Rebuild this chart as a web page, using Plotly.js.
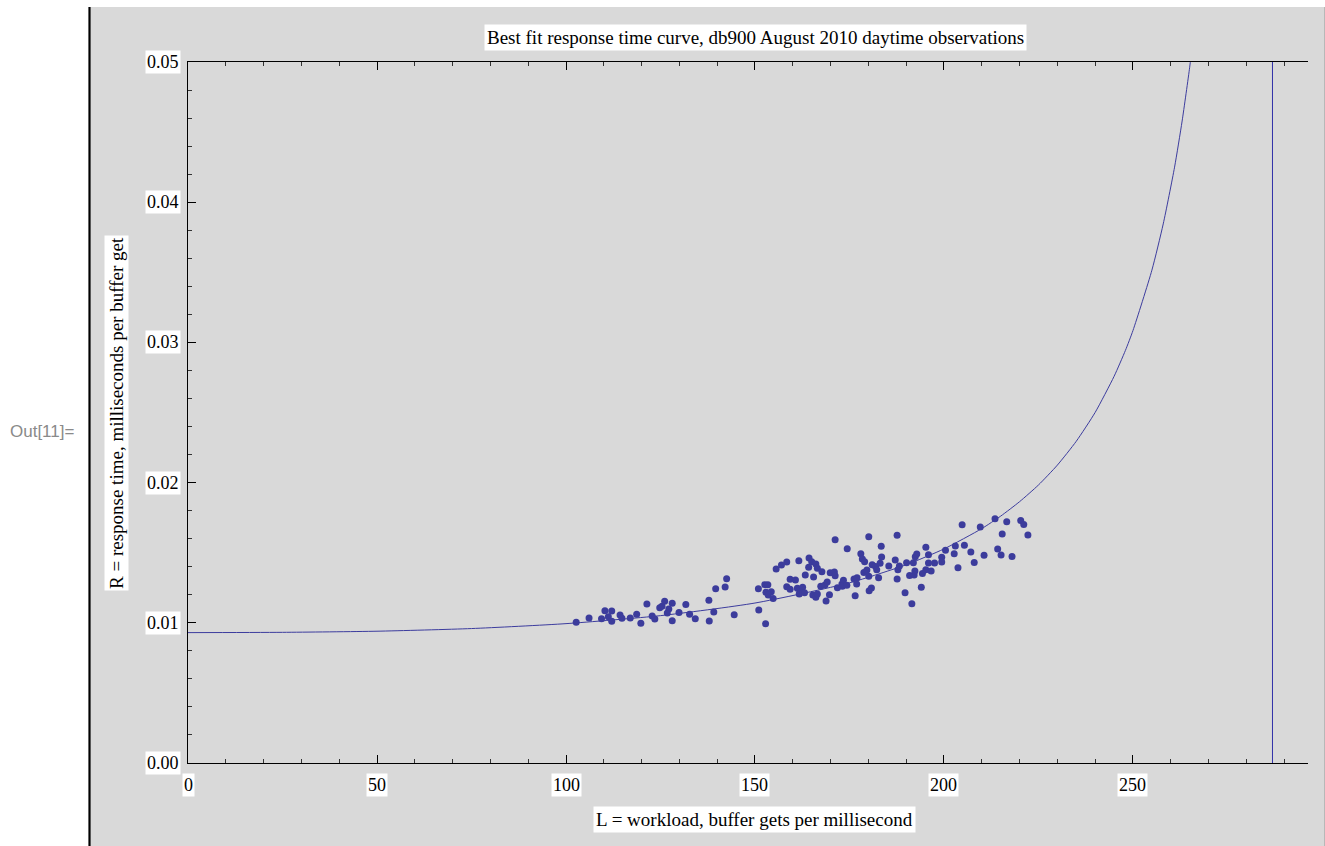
<!DOCTYPE html>
<html>
<head>
<meta charset="utf-8">
<script src="https://cdn.plot.ly/plotly-3.0.1.min.js"></script>
<style>html,body{margin:0;padding:0;background:#fff;}#chart{width:1325px;height:846px;}</style>
</head>
<body>
<div id="chart"></div>
<script>
// Observations: L = workload (buffer gets/ms), R = response time (ms/get)
var obsL = [102.7,106.1,109.4,110.3,112.1,111.2,112.1,114.3,114.8,117.0,118.7,119.8,121.4,122.8,123.5,124.8,125.4,126.1,127.2,128.1,126.8,128.1,129.9,131.7,132.7,134.2,137.8,139.1,137.9,139.6,
142.1,142.5,144.5,151.0,152.8,150.9,152.6,153.4,152.9,154.3,153.5,154.8,155.6,157.0,158.4,161.6,159.3,160.7,158.4,159.3,161.2,161.9,162.6,161.7,163.1,163.3,164.3,164.2,165.0,166.1,166.5,167.7,165.5,165.3,166.1,166.5,168.8,169.7,167.4,168.5,169.1,169.9,171.0,171.2,171.2,171.8,173.0,173.4,174.4,173.1,174.3,176.5,176.2,177.0,176.9,178.0,178.4,179.0,180.1,178.8,179.6,
183.4,183.5,187.6,180.1,181.0,181.9,182.2,183.1,182.7,180.2,180.8,185.4,187.1,188.2,187.8,187.6,189.7,190.1,191.9,192.4,192.8,190.9,192.1,192.3,194.0,191.5,194.3,195.2,195.9,195.9,195.2,196.6,197.5,199.4,199.4,200.4,202.7,203.0,203.7,205.4,204.8,207.1,208.0,209.6,210.6,213.5,215.4,214.2,215.1,216.6,218.0,220.3,221.1,222.2];
var obsR = [0.01004,0.01034,0.01029,0.01086,0.01084,0.01044,0.01011,0.01056,0.01032,0.01034,0.01061,0.00996,0.01134,0.01049,0.01027,0.01108,0.01118,0.01153,0.01098,0.01139,0.01070,0.01015,0.01074,0.01131,0.01061,0.01029,0.01160,0.01077,0.01013,0.01243,
0.01255,0.01315,0.01058,0.01091,0.00994,0.01243,0.01272,0.01272,0.01218,0.01222,0.01198,0.01174,0.01384,0.01412,0.01434,0.01443,0.01310,0.01305,0.01258,0.01239,0.01246,0.01229,0.01253,0.01205,0.01215,0.01341,0.01462,0.01396,0.01436,0.01419,0.01389,0.01365,0.01327,0.01198,0.01182,0.01205,0.01156,0.01200,0.01260,0.01270,0.01291,0.01357,0.01362,0.01336,0.01593,0.01250,0.01277,0.01303,0.01529,0.01260,0.01267,0.01193,0.01312,0.01322,0.01277,0.01493,0.01455,0.01436,0.01614,0.01359,0.01377,
0.01546,0.01469,0.01624,0.01332,0.01414,0.01402,0.01379,0.01424,0.01322,0.01229,0.01248,0.01405,0.01448,0.01405,0.01379,0.01312,0.01215,0.01429,0.01429,0.01472,0.01491,0.01337,0.01341,0.01369,0.01253,0.01136,0.01352,0.01538,0.01486,0.01427,0.01379,0.01369,0.01427,0.01468,0.01434,0.01517,0.01493,0.01548,0.01393,0.01553,0.01700,0.01505,0.01430,0.01683,0.01481,0.01743,0.01633,0.01526,0.01484,0.01721,0.01473,0.01730,0.01701,0.01626];

// Fitted curve
var curveL = [0,25,50,75,100,125,150,175,190,200,210,215,220,225,230,235,240,245,248,250,255,258,261,263,265,266];
var curveR = [0.00930,0.00932,0.00940,0.00959,0.00994,0.01051,0.01141,0.01285,0.01414,0.01527,0.01672,0.01761,0.01864,0.01983,0.02125,0.02295,0.02501,0.02758,0.02943,0.03085,0.03515,0.03845,0.04250,0.04579,0.04963,0.05187];

// Vertical asymptote
var asymL = [286.9,286.9];
var asymR = [0,0.05];

var xTickVals = [0,50,100,150,200,250];
var xTickText = ["0","50","100","150","200","250"];
var yTickVals = [0,0.01,0.02,0.03,0.04,0.05];
var yTickText = ["0.00","0.01","0.02","0.03","0.04","0.05"];

var titleText = "Best fit response time curve, db900 August 2010 daytime observations";
var xTitle = "L = workload, buffer gets per millisecond";
var yTitle = "R = response time, milliseconds per buffer get";

var serif = "Liberation Serif, Times New Roman, serif";
var tickFont = {family: serif, size: 18, color: "#000"};
var titleFont = {family: serif, size: 19, color: "#000"};

var traces = [
  {x: curveL, y: curveR, type: "scatter", mode: "lines", line: {color: "#3c3c9e", width: 1, shape: "spline", smoothing: 0.6}, hoverinfo: "skip"},
  {x: asymL, y: asymR, type: "scatter", mode: "lines", line: {color: "#3030a8", width: 1}, hoverinfo: "skip"},
  {x: obsL, y: obsR, type: "scatter", mode: "markers", marker: {color: "#3c3c9c", size: 7}, hoverinfo: "skip"}
];

function px2x(px){ return (px-188)/1120; }
function py2y(py){ return (763-py)/701; }

var annotations = [];
xTickVals.forEach(function(v,i){
  annotations.push({x: v, xref: "x", y: 0, yref: "paper", yshift: -10, xanchor: "center", yanchor: "top",
    text: xTickText[i], showarrow: false, font: tickFont, bgcolor: "#fff", borderpad: 1});
});
yTickVals.forEach(function(v,i){
  annotations.push({x: 0, xref: "paper", xshift: -7, y: v, yref: "y", xanchor: "right", yanchor: "middle",
    text: yTickText[i], showarrow: false, font: tickFont, bgcolor: "#fff", borderpad: 1});
});
annotations.push({x: px2x(755), xref: "paper", y: py2y(37), yref: "paper", xanchor: "center", yanchor: "middle",
  text: titleText, showarrow: false, font: titleFont, bgcolor: "#fff", borderpad: 2});
annotations.push({x: px2x(754), xref: "paper", y: py2y(819), yref: "paper", xanchor: "center", yanchor: "middle",
  text: xTitle, showarrow: false, font: titleFont, bgcolor: "#fff", borderpad: 2});
annotations.push({x: px2x(117), xref: "paper", y: py2y(413), yref: "paper", xanchor: "center", yanchor: "middle",
  text: yTitle, textangle: -90, showarrow: false, font: titleFont, bgcolor: "#fff", borderpad: 1});
annotations.push({x: px2x(8), xref: "paper", y: py2y(431), yref: "paper", xanchor: "left", yanchor: "middle",
  text: "Out[11]=", showarrow: false, font: {family: "Liberation Sans, Arial, sans-serif", size: 17, color: "#8a8a8a"}});

var shapes = [
  {type: "rect", xref: "paper", yref: "paper", x0: px2x(90), x1: px2x(1324), y0: py2y(860), y1: py2y(7),
    fillcolor: "#d9d9d9", line: {width: 0}, layer: "below"},
  {type: "line", xref: "paper", yref: "paper", x0: px2x(1324.5), x1: px2x(1324.5), y0: py2y(860), y1: py2y(7),
    line: {color: "#b8b8b8", width: 1}, layer: "below"},
  {type: "line", xref: "paper", yref: "paper", x0: px2x(89.5), x1: px2x(89.5), y0: py2y(860), y1: py2y(7),
    line: {color: "#000", width: 2.2}, layer: "above"}
];

var layout = {
  width: 1325, height: 846,
  margin: {l: 188, r: 17, t: 62, b: 83},
  paper_bgcolor: "#ffffff",
  plot_bgcolor: "#d9d9d9",
  showlegend: false,
  xaxis: {range: [0, 296.3], tickvals: xTickVals, ticktext: xTickText, showticklabels: false,
    ticks: "inside", ticklen: 8, tickcolor: "#000", tickwidth: 1,
    minor: {dtick: 10, tick0: 0, ticks: "inside", ticklen: 4, tickcolor: "#333", tickwidth: 1},
    showline: true, linecolor: "#000", linewidth: 1.3, mirror: "ticks",
    showgrid: false, zeroline: false, fixedrange: true},
  yaxis: {range: [0, 0.05], tickvals: yTickVals, ticktext: yTickText, showticklabels: false,
    ticks: "inside", ticklen: 8, tickcolor: "#000", tickwidth: 1,
    minor: {dtick: 0.002, tick0: 0, ticks: "inside", ticklen: 4, tickcolor: "#333", tickwidth: 1},
    showline: true, linecolor: "#000", linewidth: 1.3, mirror: false,
    showgrid: false, zeroline: false, fixedrange: true},
  annotations: annotations,
  shapes: shapes
};

Plotly.newPlot("chart", traces, layout, {staticPlot: true, displayModeBar: false});
</script>
</body>
</html>
